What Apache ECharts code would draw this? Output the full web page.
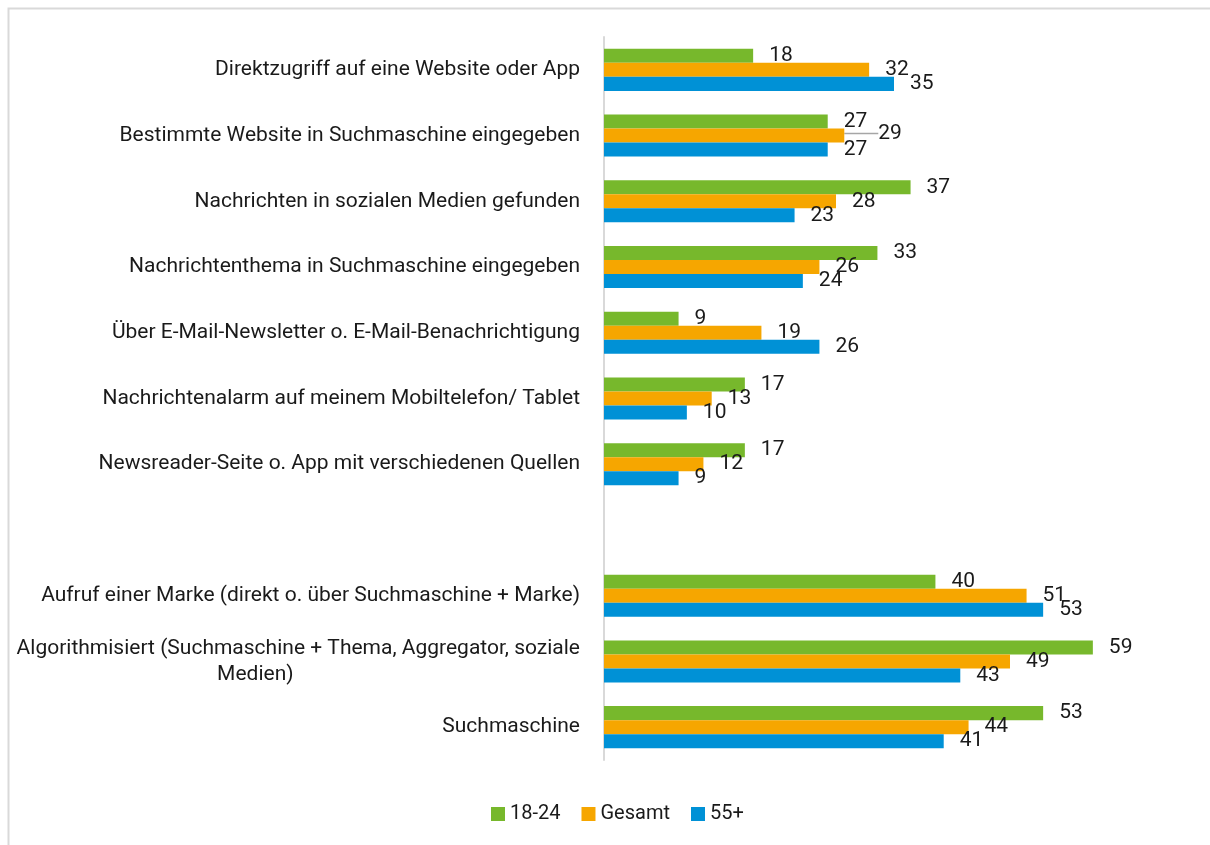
<!DOCTYPE html>
<html><head><meta charset="utf-8">
<script src="https://cdn.jsdelivr.net/npm/echarts@6/dist/echarts.min.js"></script>
<style>html,body{margin:0;padding:0;background:#fff}#c{width:1210px;height:845px}</style>
</head><body><div id="c"></div>
<script>
const categories = [
  'Direktzugriff auf eine Website oder App',
  'Bestimmte Website in Suchmaschine eingegeben',
  'Nachrichten in sozialen Medien gefunden',
  'Nachrichtenthema in Suchmaschine eingegeben',
  'Über E-Mail-Newsletter o. E-Mail-Benachrichtigung',
  'Nachrichtenalarm auf meinem Mobiltelefon/ Tablet',
  'Newsreader-Seite o. App mit verschiedenen Quellen',
  '',
  'Aufruf einer Marke (direkt o. über Suchmaschine + Marke)',
  'Algorithmisiert (Suchmaschine + Thema, Aggregator, soziale\nMedien)',
  'Suchmaschine'
];
const seriesNames = ['18-24', 'Gesamt', '55+'];
const age1824 = [18, 27, 37, 33, 9, 17, 17, null, 40, 59, 53];
const gesamt  = [32, 29, 28, 26, 19, 13, 12, null, 51, 49, 44];
const age55   = [35, 27, 23, 24, 26, 10, 9, null, 53, 43, 41];

const FONT = "Roboto, 'Noto Sans', sans-serif";
const colors = ['#77B82C', '#F6A600', '#0091D6'];

const chart = echarts.init(document.getElementById('c'), null, {renderer: 'canvas'});

function mkSeries(name, data, color, idx) {
  return {
    name: name,
    type: 'bar',
    data: data.map((v, i) => (idx === 1 && i === 1) ? {value: v, labelLine: {show: true}} : v),
    barGap: '0%',
    barCategoryGap: '36%',
    itemStyle: {color: color},
    label: {
      show: true, position: 'right', distance: 16, offset: [0, 3],
      fontFamily: FONT, fontSize: 21, color: '#1a1a1a'
    },
    labelLine: {show: false, lineStyle: {color: '#a6a6a6', width: 1.5}},
    labelLayout: function (p) {
      if (idx === 1 && p.dataIndex === 1) return {dx: 18, dy: -2};
      return {};
    }
  };
}

chart.setOption({
  animation: false,
  backgroundColor: '#fff',
  graphic: [{
    type: 'rect', left: 6, top: 6, shape: {width: 1240, height: 880},
    style: {fill: 'none', stroke: '#d9d9d9', lineWidth: 2}, silent: true
  }],
  grid: {left: 604, top: 37, width: 580, height: 723, containLabel: false},
  legend: {
    bottom: 16, left: 486,
    itemWidth: 14, itemHeight: 14, itemGap: 21,
    icon: 'rect',
    textStyle: {fontFamily: FONT, fontSize: 20, color: '#1a1a1a'},
    data: seriesNames
  },
  xAxis: {
    type: 'value', min: 0, max: 70,
    show: false
  },
  yAxis: {
    type: 'category', data: categories, inverse: true,
    axisLine: {show: true, lineStyle: {color: '#d9d9d9', width: 2}},
    axisTick: {show: false},
    splitLine: {show: false},
    axisLabel: {
      margin: 24, fontFamily: FONT, fontSize: 21, color: '#1a1a1a', lineHeight: 26,
      formatter: function (v) {
        if (v.indexOf('\n') >= 0) {
          const parts = v.split('\n');
          return '{m|' + parts[0] + '}\n{n|' + parts[1] + '}';
        }
        return v;
      },
      rich: {
        m: {align: 'center', fontFamily: FONT, fontSize: 21, color: '#1a1a1a', lineHeight: 26},
        n: {align: 'center', fontFamily: FONT, fontSize: 21, color: '#1a1a1a', lineHeight: 26, padding: [0, 86, 0, 0]}
      }
    }
  },
  series: [
    mkSeries(seriesNames[0], age1824, colors[0], 0),
    mkSeries(seriesNames[1], gesamt, colors[1], 1),
    mkSeries(seriesNames[2], age55, colors[2], 2)
  ]
});
</script></body></html>
